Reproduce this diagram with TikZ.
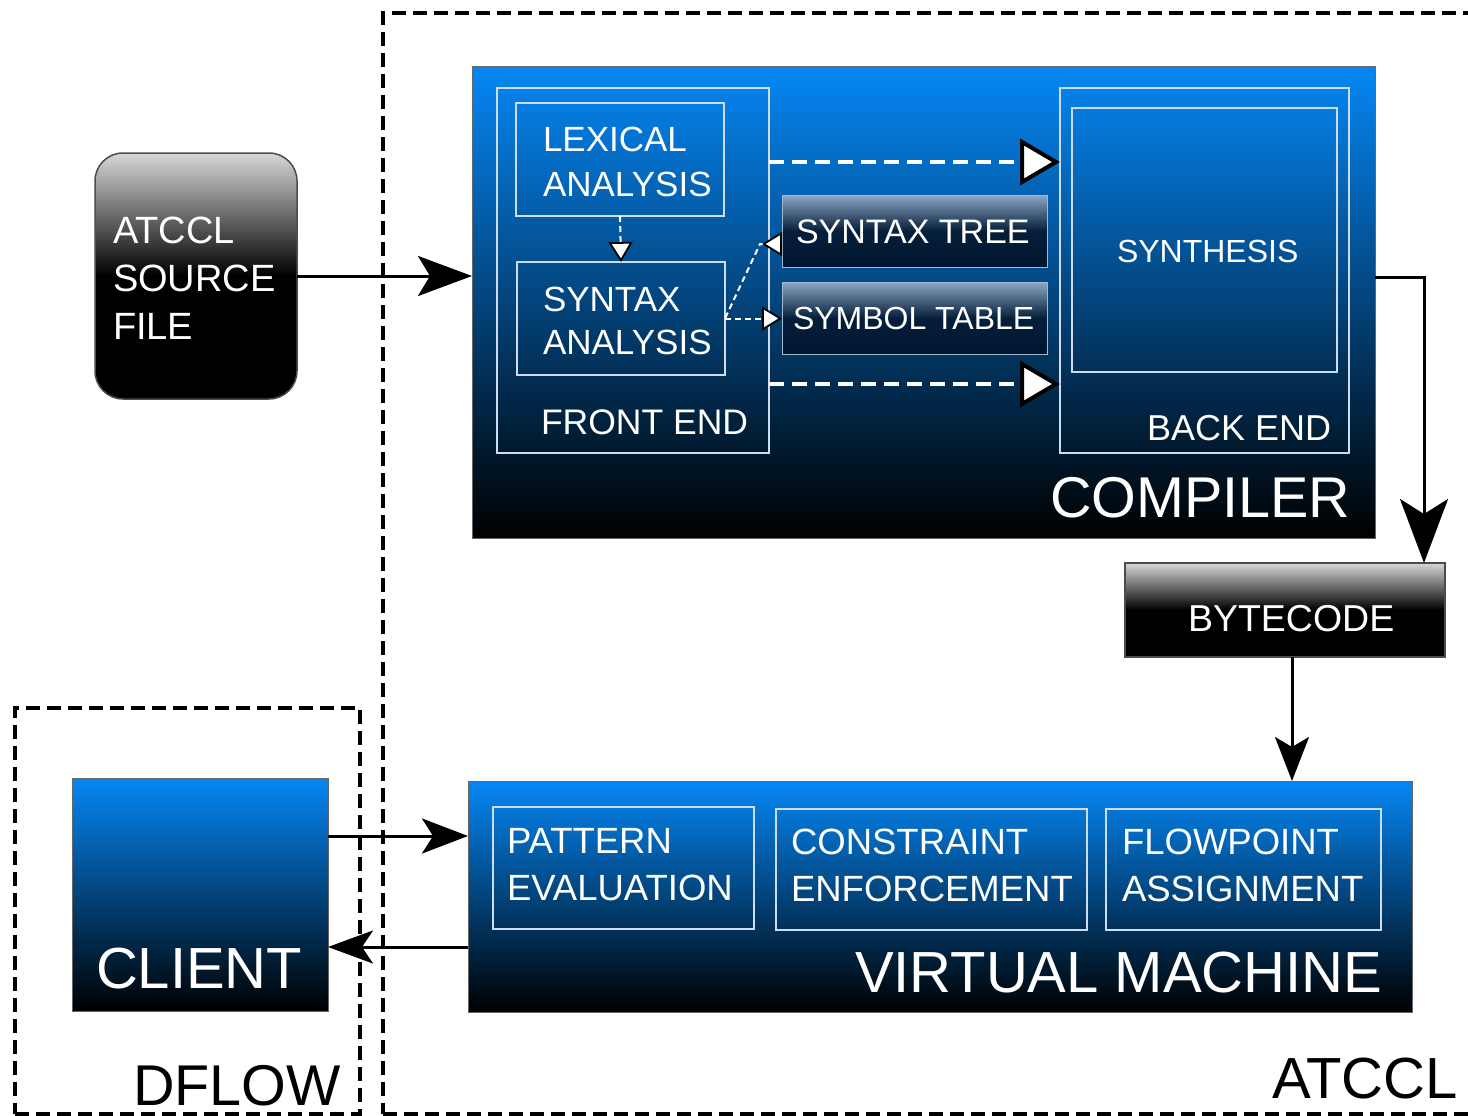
\documentclass[tikz,border=0pt]{standalone}
\usepackage{fontspec}
\setmainfont{Liberation Sans}
\usetikzlibrary{arrows.meta,calc}
\definecolor{cblue}{RGB}{5,135,245}
\definecolor{inl}{RGB}{205,220,238}
\definecolor{stTop}{RGB}{140,168,196}
\definecolor{stMid}{RGB}{5,30,58}
\definecolor{stBot}{RGB}{0,22,48}
\definecolor{gTop}{RGB}{215,215,215}
\newcommand\myfs[2]{\fontsize{#1}{#2}\selectfont}
\begin{document}
\begin{tikzpicture}[x=1pt,y=-1pt,
  boxbase/.style={inner sep=0pt, outer sep=0pt, anchor=north west},
  bluebox/.style={boxbase, draw=black!60, line width=1pt, top color=cblue, bottom color=black},
  greybox/.style={boxbase, draw=black!70, line width=1.5pt, top color=gTop, bottom color=black, middle color=black},
  tabbox/.style={boxbase, draw=stTop!80, line width=1pt, top color=stTop, bottom color=stBot, middle color=stMid},
  inbox/.style={boxbase, draw=inl, line width=2.5pt},
  dashbox/.style={boxbase, draw=black, line width=3.5pt, dash pattern=on 14pt off 7pt},
  lbl/.style={inner sep=0pt, outer sep=0pt, anchor=north west, align=left, text=white},
  dlbl/.style={inner sep=0pt, outer sep=0pt, anchor=north west, align=left, text=black},
  blk/.style={draw=black, line width=3pt},
  wdash/.style={draw=white, line width=4pt, dash pattern=on 15pt off 8pt},
  sdash/.style={draw=white, line width=2pt, dash pattern=on 6pt off 4pt},
  wtip/.style={-{Triangle[color=black, fill=white, line width=4pt, length=40pt, width=46pt]}},
  stip/.style={-{Triangle[color=black, fill=white, line width=1.8pt, length=20pt, width=24pt]}}
]
\useasboundingbox (0,0) rectangle (1468,1116);
\fill[white] (0,0) rectangle (1468,1116);

% dashed containers
\node[dashbox, minimum width=1120pt, minimum height=1101pt] (atbox) at (383,13) {};
\node[dashbox, minimum width=345pt, minimum height=406pt] (dfbox) at (15,708) {};
\node[dlbl, font=\myfs{58}{60}] (atlbl) at (1272,1058) {ATCCL};
\node[dlbl, font=\myfs{57.5}{60}] (dflbl) at (133,1065) {DFLOW};

% source file
\node[greybox, rounded corners=28pt, minimum width=202pt, minimum height=246pt] (src) at (95,153) {};
\node[lbl, font=\myfs{38}{48}] (srclbl) at (113,217) {ATCCL\\SOURCE\\FILE};

% compiler
\node[bluebox, minimum width=903pt, minimum height=471pt] (cmp) at (472,67) {};
\node[lbl, font=\myfs{57.5}{60}] (cmplbl) at (1050,477) {COMPILER};
\node[inbox, minimum width=272pt, minimum height=365pt] (fe) at (497,88) {};
\node[lbl, font=\myfs{35.5}{40}] (felbl) at (541,410) {FRONT END};
\node[inbox, minimum width=208pt, minimum height=113pt] (lex) at (516,103) {};
\node[lbl, font=\myfs{35}{45}] (lexlbl) at (543,127) {LEXICAL\\ANALYSIS};
\node[inbox, minimum width=208pt, minimum height=113pt] (sa) at (517,262) {};
\node[lbl, font=\myfs{35}{43}] (salbl) at (543,287) {SYNTAX\\ANALYSIS};
\node[tabbox, minimum width=265pt, minimum height=72pt] (st) at (782,195) {};
\node[lbl, font=\myfs{34}{36}] (stlbl) at (796,220) {SYNTAX TREE};
\node[tabbox, minimum width=265pt, minimum height=72pt] (sym) at (782,282) {};
\node[lbl, font=\myfs{32}{36}] (symlbl) at (793,307) {SYMBOL TABLE};
\node[inbox, minimum width=289pt, minimum height=365pt] (be) at (1060,88) {};
\node[lbl, font=\myfs{36}{40}] (belbl) at (1147,415) {BACK END};
\node[inbox, minimum width=265pt, minimum height=264pt] (syn) at (1072,108) {};
\node[lbl, font=\myfs{32}{36}] (synlbl) at (1117,240) {SYNTHESIS};

% bytecode
\node[greybox, minimum width=320pt, minimum height=94pt] (bc) at (1125,563) {};
\node[lbl, font=\myfs{37.5}{40}] (bclbl) at (1188,605) {BYTECODE};

% virtual machine
\node[bluebox, minimum width=944pt, minimum height=231pt] (vm) at (468,781) {};
\node[lbl, font=\myfs{58}{60}] (vmlbl) at (855,952) {VIRTUAL MACHINE};
\node[inbox, minimum width=261pt, minimum height=122pt] (pe) at (493,807) {};
\node[lbl, font=\myfs{36.5}{47}] (pelbl) at (507,828) {PATTERN\\EVALUATION};
\node[inbox, minimum width=311pt, minimum height=121pt] (ce) at (776,809) {};
\node[lbl, font=\myfs{36.5}{47}] (celbl) at (791,829) {CONSTRAINT\\ENFORCEMENT};
\node[inbox, minimum width=275pt, minimum height=121pt] (fp) at (1106,809) {};
\node[lbl, font=\myfs{36.5}{47}] (fplbl) at (1122,829) {FLOWPOINT\\ASSIGNMENT};

% client
\node[bluebox, minimum width=256pt, minimum height=233pt] (cl) at (72,778) {};
\node[lbl, font=\myfs{58}{60}] (cllbl) at (96,948) {CLIENT};

% connectors
\draw[blk, -{Stealth[length=54pt,width=40pt,inset=12pt]}] (src.east) -- (src.east -| cmp.west);

\coordinate (cmpout) at ($(cmp.north east)+(0,210)$);
\coordinate (bcin) at ($(bc.north east)+(-21,0)$);
\draw[blk, -{Stealth[length=64pt,width=48pt,inset=15pt]}] (cmpout) -| (bcin);

\coordinate (bcout) at ($(bc.south)+(7,0)$);
\draw[blk, -{Stealth[length=44pt,width=34pt,inset=10pt]}] (bcout) -- (bcout |- vm.north);

\coordinate (clout) at ($(cl.north east)+(0,58)$);
\draw[blk, -{Stealth[length=46pt,width=35pt,inset=11pt]}] (clout) -- (clout -| vm.west);
\coordinate (vmout) at ($(vm.south west)+(0,-65)$);
\draw[blk, -{Stealth[length=45pt,width=33pt,inset=11pt]}] (vmout) -- (vmout -| cl.east);

\coordinate (feA) at ($(fe.north east)+(0,74)$);
\coordinate (feB) at ($(fe.north east)+(0,296)$);
\draw[wdash, wtip] (feA) -- (feA -| be.west);
\draw[wdash, wtip] (feB) -- (feB -| be.west);

\draw[sdash, stip] (lex.south) -- (sa.north);
\draw[sdash, stip] (sa.east) -- (sa.east -| sym.west);
\coordinate (stin) at ($(st.west)+(0,13)$);
\draw[sdash, {Triangle[reversed, color=black, fill=white, line width=1.8pt, length=20pt, width=24pt]}-] (stin) -- ++(-22,0) -- (sa.east);
\end{tikzpicture}
\end{document}
